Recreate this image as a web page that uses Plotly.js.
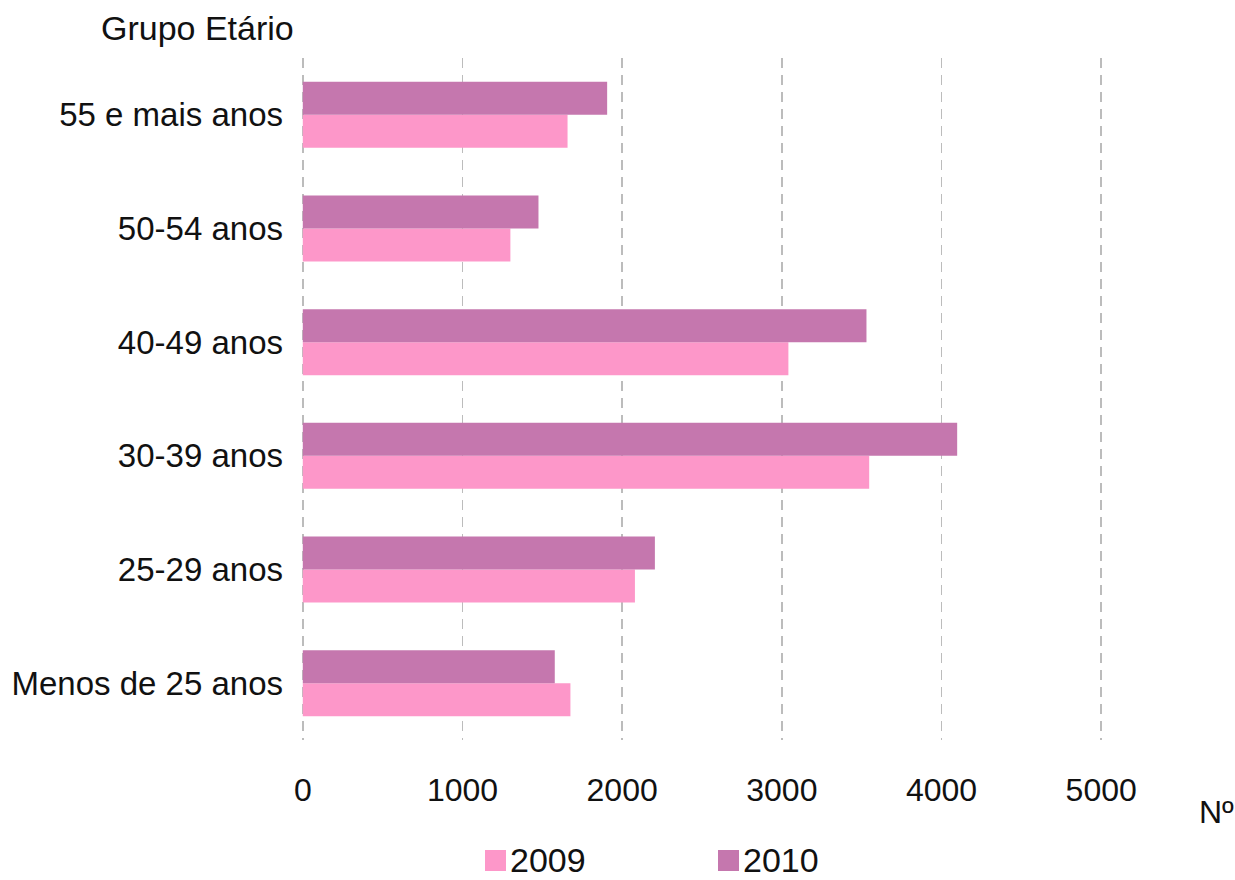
<!DOCTYPE html>
<html>
<head>
<meta charset="utf-8">
<script src="https://cdn.plot.ly/plotly-3.0.1.min.js"></script>
<style>html,body{margin:0;padding:0;background:#fff;}#chart{width:1235px;height:880px;}</style>
</head>
<body>
<div id="chart"></div>
<script>
const categories = ["Menos de 25 anos", "25-29 anos", "30-39 anos", "40-49 anos", "50-54 anos", "55 e mais anos"];
const values2009 = [1676, 2080, 3547, 3041, 1300, 1658];
const values2010 = [1578, 2205, 4098, 3530, 1476, 1906];
const seriesNames = ["2009", "2010"];
const seriesColors = ["#fd97c9", "#c577ae"];
const xTicks = [0, 1000, 2000, 3000, 4000, 5000];

const font = "Liberation Sans, Arial, sans-serif";
const FS = 32;

const traces = [
  {type: "bar", orientation: "h", name: seriesNames[0], y: categories, x: values2009,
   marker: {color: seriesColors[0]}, showlegend: false},
  {type: "bar", orientation: "h", name: seriesNames[1], y: categories, x: values2010,
   marker: {color: seriesColors[1]}, showlegend: false}
];

// plot area in pixels
const L = 298, R = 1106, T = 58, B = 740;
const W = R - L, H = B - T;

// custom legend (larger squares than Plotly's default)
const legendX = [485, 718];
const shapes = [];
const annotations = [];
seriesNames.forEach((n, i) => {
  shapes.push({type: "rect", xref: "paper", yref: "paper",
    x0: (legendX[i] - L) / W, x1: (legendX[i] + 21 - L) / W,
    y0: (B - 871) / H, y1: (B - 850) / H,
    fillcolor: seriesColors[i], line: {width: 0}});
  annotations.push({text: n, xref: "paper", yref: "paper",
    x: (legendX[i] + 23 - L) / W, xanchor: "left",
    y: (B - 860) / H, yanchor: "middle", showarrow: false,
    font: {size: 34, family: font, color: "#111"}});
});
annotations.push(
  {text: "Grupo Etário", xref: "paper", yref: "paper", x: (296 - L) / W, xanchor: "right",
   y: 1.0, yshift: 30, yanchor: "middle", showarrow: false, font: {size: 34, family: font, color: "#111"}},
  {text: "Nº", xref: "paper", yref: "paper", x: (1216 - L) / W, xanchor: "center",
   y: 0, yshift: -72, yanchor: "middle", showarrow: false, font: {size: FS, family: font, color: "#111"}}
);

const layout = {
  width: 1235, height: 880,
  margin: {l: L, r: 1235 - R, t: T, b: 880 - B},
  paper_bgcolor: "#fff", plot_bgcolor: "#fff",
  barmode: "group", bargap: 0.42, bargroupgap: 0,
  font: {family: font, color: "#111", size: FS},
  xaxis: {
    range: [-30, 5030], tickvals: xTicks, ticktext: xTicks.map(String),
    showgrid: true, gridcolor: "#bcbcbc", griddash: "10px,7px", gridwidth: 1.5,
    zeroline: false, showline: false, ticks: "",
    ticklabelstandoff: 28, tickfont: {size: FS, family: font, color: "#111"}
  },
  yaxis: {
    type: "category", range: [-0.5, 5.5], showgrid: false, zeroline: false,
    showline: false, ticks: "", ticklabelstandoff: 14,
    tickfont: {size: 33, family: font, color: "#111"}
  },
  showlegend: false,
  shapes: shapes,
  annotations: annotations
};

Plotly.newPlot("chart", traces, layout, {displayModeBar: false, staticPlot: true});
</script>
</body>
</html>
